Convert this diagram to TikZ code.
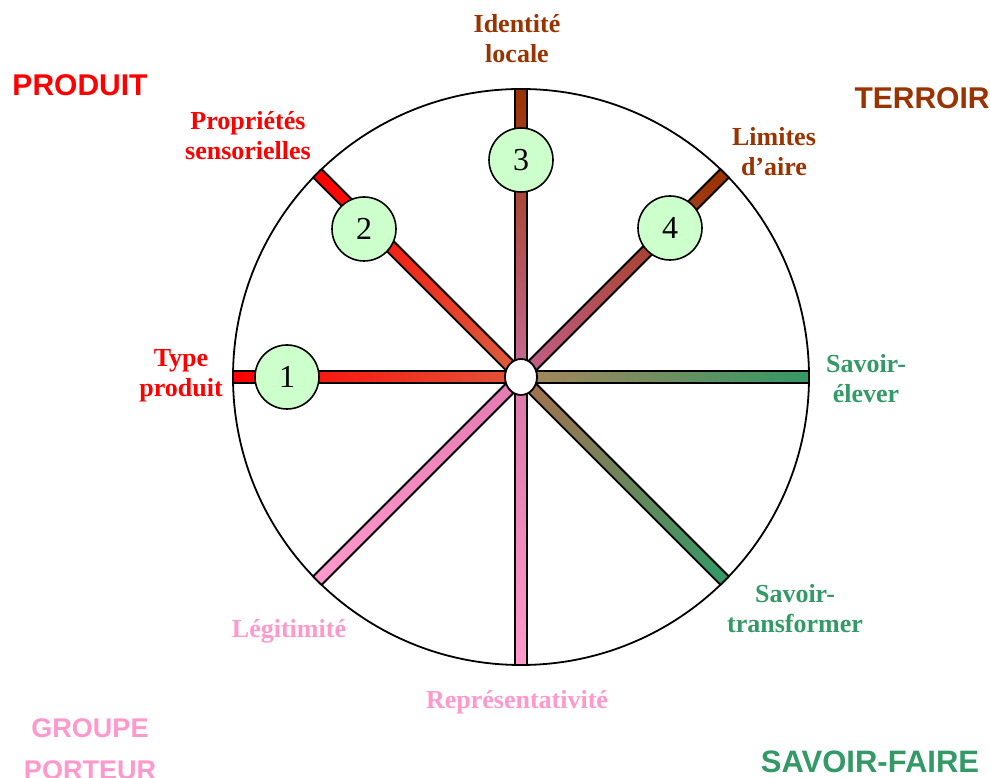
\documentclass[tikz,border=0pt]{standalone}
\usepackage{fontspec}
\usetikzlibrary{shapes.geometric}
\setmainfont{Liberation Serif}
\newfontfamily\catfont{Liberation Sans}
\definecolor{cred}{HTML}{FF0000}
\definecolor{cbrown}{HTML}{993300}
\definecolor{cgreen}{HTML}{339966}
\definecolor{cpink}{HTML}{FF99CC}
\definecolor{numfill}{HTML}{CCFFCC}
\definecolor{ma}{HTML}{E2553A}
\definecolor{mb}{HTML}{D8603F}
\definecolor{mc}{HTML}{C86A98}
\definecolor{md}{HTML}{C0608A}
\definecolor{me}{HTML}{A8855A}
\definecolor{mf}{HTML}{A8704E}
\definecolor{mg}{HTML}{DD77AA}
\definecolor{mh}{HTML}{E07AB0}
\newcommand\myspoke[3]{%
  \begin{scope}[transform canvas={shift={(521,401)},rotate=#1}]
    \draw[line width=1.8pt, left color=#2, right color=#3] (0,-6) rectangle (288,6);
  \end{scope}}
\tikzset{
  lbl/.style={font=\bfseries\fontsize{26}{30}\selectfont, align=center, inner sep=0pt},
  cat/.style={font=\catfont\bfseries\fontsize{30}{42}\selectfont, align=center, inner sep=0pt},
  num/.style={circle, draw=black, line width=1.6pt, fill=numfill, minimum size=64pt, inner sep=0pt, font=\fontsize{32}{36}\selectfont},
}
\begin{document}
\begin{tikzpicture}[x=1pt,y=1pt]
\useasboundingbox (0,0) rectangle (990,778);
\fill[white] (0,0) rectangle (990,778);
\node[circle, draw=black, line width=1.8pt, minimum size=576pt, inner sep=0pt] (rim) at (521,401) {};
\myspoke{180}{ma}{cred}
\myspoke{135}{mb}{cred}
\myspoke{90}{mc}{cbrown}
\myspoke{45}{md}{cbrown}
\myspoke{0}{me}{cgreen}
\myspoke{-45}{mf}{cgreen}
\myspoke{-90}{mg}{cpink}
\myspoke{-135}{mh}{cpink}
\node[ellipse, draw=black, line width=1.8pt, fill=white, minimum width=32pt, minimum height=36pt, inner sep=0pt] (ctr) at (521,401) {};
\node[num] (n1) at (287,401) {1};
\node[num] (n2) at (364,549) {2};
\node[num] (n3) at (521,618) {3};
\node[num] (n4) at (670,550) {4};
% labels
\node[lbl, text=cbrown] (l3) at (517,739) {Identité\\locale};
\node[lbl, text=cred] (l2) at (248,642) {Propriétés\\sensorielles};
\node[lbl, text=cbrown] (l4) at (774,626.5) {Limites\\d’aire};
\node[lbl, text=cred] (l1) at (181,402) {Type\\produit};
\node[lbl, text=cgreen] (l5) at (866,399) {Savoir-\\élever};
\node[lbl, text=cgreen] (l6) at (795,169.5) {Savoir-\\transformer};
\node[lbl, text=cpink] (l8) at (289,147) {Légitimité};
\node[lbl, text=cpink] (l7) at (517,76) {Représentativité};
% categories
\node[cat, text=cred] (cp) at (80,693) {PRODUIT};
\node[cat, text=cbrown] (ct) at (922,680) {TERROIR};
\node[cat, text=cpink, font=\catfont\bfseries\fontsize{27}{42}\selectfont] (cg) at (90,29) {GROUPE\\PORTEUR};
\node[cat, text=cgreen, font=\catfont\bfseries\fontsize{31}{42}\selectfont] (cs) at (870,16) {SAVOIR-FAIRE};
\end{tikzpicture}
\end{document}
